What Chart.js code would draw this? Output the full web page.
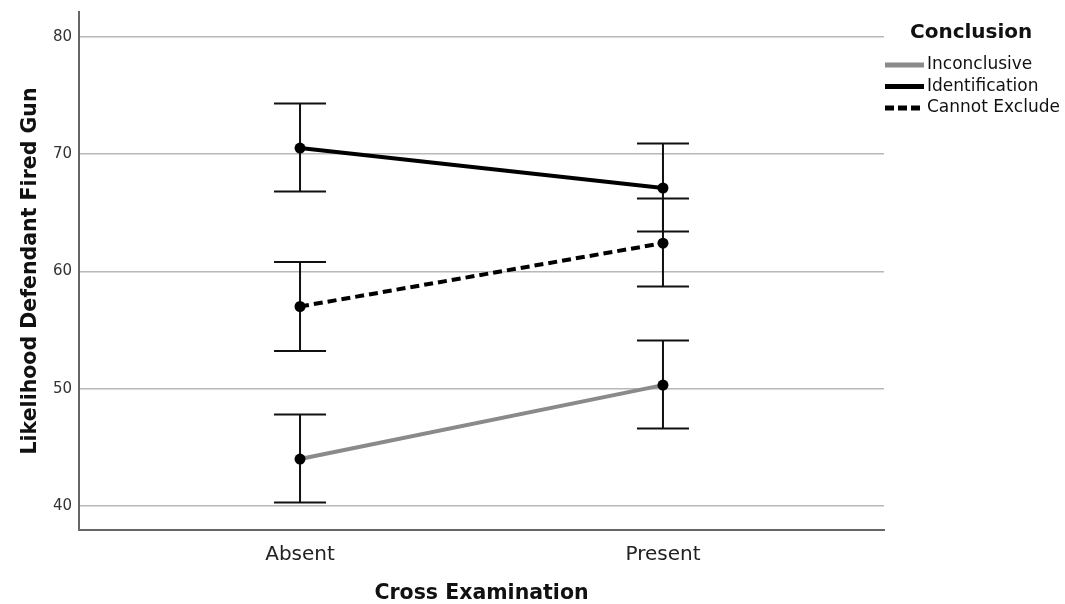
<!DOCTYPE html>
<html>
<head>
<meta charset="utf-8">
<script src="https://cdn.jsdelivr.net/npm/chart.js@4"></script>
<style>
  html, body { margin: 0; padding: 0; background: #fff; }
</style>
</head>
<body>
<canvas id="chart" width="1065" height="604"></canvas>
<script>
// Data
const categories = ['Absent', 'Present'];
const seriesNames = ['Inconclusive', 'Identification', 'Cannot Exclude'];
const inconclusive = [44.0, 50.3];
const identification = [70.5, 67.1];
const cannotExclude = [57.0, 62.4];
// error bar ends (low / high)
const inconclusiveLow = [40.3, 46.6];
const inconclusiveHigh = [47.8, 54.1];
const identificationLow = [66.8, 63.4];
const identificationHigh = [74.3, 70.9];
const cannotExcludeLow = [53.2, 58.7];
const cannotExcludeHigh = [60.8, 66.2];
const yTicks = [40, 50, 60, 70, 80];

const FONT = '"DejaVu Sans", "Open Sans", sans-serif';

function toPoints(values) {
    return values.map((v, i) => ({ x: i, y: v }));
}

const datasets = [
    { label: seriesNames[0], data: toPoints(inconclusive), low: inconclusiveLow, high: inconclusiveHigh,
      borderColor: '#8a8a8a', borderWidth: 4 },
    { label: seriesNames[1], data: toPoints(identification), low: identificationLow, high: identificationHigh,
      borderColor: '#000', borderWidth: 4 },
    { label: seriesNames[2], data: toPoints(cannotExclude), low: cannotExcludeLow, high: cannotExcludeHigh,
      borderColor: '#000', borderWidth: 4, borderDash: [9, 5] },
].map(ds => Object.assign(ds, {
    pointRadius: 5.5,
    pointBackgroundColor: '#000',
    pointBorderColor: '#000',
    pointBorderWidth: 0,
    borderCapStyle: 'butt',
    fill: false,
    tension: 0
}));

// Error bars
const errorBars = {
    id: 'errorBars',
    beforeDatasetsDraw(chart) {
        const { ctx, scales: { x, y } } = chart;
        ctx.save();
        ctx.strokeStyle = '#111';
        ctx.lineWidth = 2;
        chart.data.datasets.forEach(ds => {
            ds.data.forEach((p, i) => {
                const px = x.getPixelForValue(p.x);
                const yl = y.getPixelForValue(ds.low[i]);
                const yh = y.getPixelForValue(ds.high[i]);
                ctx.beginPath();
                ctx.moveTo(px, yl); ctx.lineTo(px, yh);
                ctx.moveTo(px - 26, yl); ctx.lineTo(px + 26, yl);
                ctx.moveTo(px - 26, yh); ctx.lineTo(px + 26, yh);
                ctx.stroke();
            });
        });
        ctx.restore();
    }
};

// Legend on the right, SPSS style
const sideLegend = {
    id: 'sideLegend',
    afterDraw(chart) {
        const { ctx } = chart;
        ctx.save();
        ctx.fillStyle = '#111';
        ctx.textBaseline = 'middle';
        ctx.font = 'bold 20px ' + FONT;
        ctx.fillText('Conclusion', 910, 33);
        ctx.font = '17px ' + FONT;
        chart.data.datasets.forEach((ds, i) => {
            const yy = 65 + i * 21.5;
            ctx.strokeStyle = ds.borderColor;
            ctx.lineWidth = 5;
            ctx.setLineDash(ds.borderDash ? [9, 4] : []);
            ctx.beginPath();
            ctx.moveTo(885, yy); ctx.lineTo(924, yy);
            ctx.stroke();
            ctx.fillText(ds.label, 927, yy);
        });
        ctx.restore();
    }
};

new Chart(document.getElementById('chart'), {
    type: 'line',
    data: { datasets },
    options: {
        responsive: false,
        animation: false,
        devicePixelRatio: 1,
        layout: { padding: { top: 12, right: 181, left: 0, bottom: 0 } },
        plugins: { legend: { display: false }, tooltip: { enabled: false } },
        scales: {
            x: {
                type: 'linear',
                min: -0.609,
                max: 1.609,
                afterFit: s => { s.height = 74; s.paddingLeft = 0; s.paddingRight = 0; },
                afterBuildTicks: s => { s.ticks = categories.map((c, i) => ({ value: i })); },
                grid: { display: false },
                border: { color: '#666', width: 2 },
                ticks: {
                    callback: v => categories[v],
                    color: '#222',
                    font: { family: FONT, size: 20 },
                    padding: 5
                },
                title: {
                    display: true,
                    text: 'Cross Examination',
                    color: '#111',
                    font: { family: FONT, size: 20.5, weight: 'bold', lineHeight: 1 },
                    padding: { top: 0, bottom: 0 }
                }
            },
            y: {
                min: 37.95,
                max: 82.1,
                afterFit: s => { s.width = 79; s.paddingTop = 0; s.paddingBottom = 0; },
                afterBuildTicks: s => { s.ticks = yTicks.map(v => ({ value: v })); },
                grid: { color: '#b8b8b8', lineWidth: 1.5, drawTicks: false },
                border: { color: '#666', width: 2 },
                ticks: {
                    color: '#333',
                    font: { family: FONT, size: 15 },
                    padding: 7
                },
                title: {
                    display: true,
                    text: 'Likelihood Defendant Fired Gun',
                    color: '#111',
                    font: { family: FONT, size: 20.5, weight: 'bold', lineHeight: 1 },
                    padding: { top: 20, bottom: 0 }
                }
            }
        }
    },
    plugins: [errorBars, sideLegend]
});
</script>
</body>
</html>
